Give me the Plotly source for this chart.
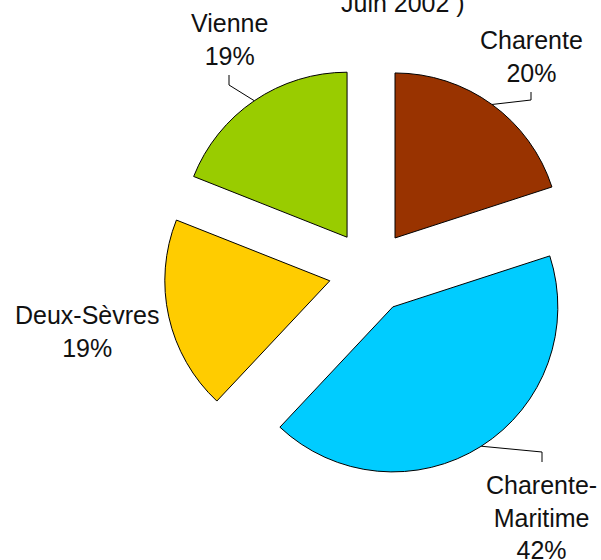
import math
import plotly.graph_objects as go

# ---- data ----
labels = ["Charente", "Charente-Maritime", "Deux-Sèvres", "Vienne"]
label_text = ["Charente<br>20%", "Charente-<br>Maritime<br>42%", "Deux-Sèvres<br>19%", "Vienne<br>19%"]
values = [20, 42, 19, 19]
colors = ["#993300", "#00CCFF", "#FFCC00", "#99CC00"]
title_text = "Juin 2002 )"

# ---- layout constants (pixels) ----
W, H = 601, 560
CX, CY = 370.5, 271.7      # pie centre
R = 165.0                   # radius
PULL = 0.2527               # explode fraction of radius
FONT = "Liberation Sans"
FS = 25

half = R * (1 + PULL)
dom_x = [(CX - half) / W, (CX + half) / W]
dom_y = [1 - (CY + half) / H, 1 - (CY - half) / H]

fig = go.Figure(go.Pie(
    labels=labels, values=values, sort=False, direction="clockwise", rotation=0,
    pull=[PULL] * len(values),
    marker=dict(colors=colors, line=dict(color="black", width=1)),
    textinfo="none", hoverinfo="label+percent", showlegend=False,
    domain=dict(x=dom_x, y=dom_y),
))

# label text positions (pixel centres) and leader elbow points
text_pos = [(531, 57), (541, 517), (87, 331), (229, 40)]
elbows = [[(531, 92), (531, 100)], [(542, 462), (542, 452)], None, [(229, 75), (229, 85)]]

total = sum(values)
start = 0.0
shapes = []
annotations = []
for i, v in enumerate(values):
    frac = v / total
    mid = (start + frac / 2) * 2 * math.pi
    start += frac
    ox = CX + PULL * R * math.sin(mid)
    oy = CY - PULL * R * math.cos(mid)
    px = ox + R * math.sin(mid)
    py = oy - R * math.cos(mid)
    tx, ty = text_pos[i]
    annotations.append(dict(
        x=tx / W, y=1 - ty / H, xref="paper", yref="paper", text=label_text[i],
        showarrow=False, font=dict(family=FONT, size=FS, color="#111111"),
        xanchor="center", yanchor="middle", align="center"))
    if elbows[i]:
        pts = elbows[i] + [(px, py)]
        path = "M " + " L ".join(f"{x / W},{1 - y / H}" for x, y in pts)
        shapes.append(dict(type="path", path=path, xref="paper", yref="paper",
                           line=dict(color="black", width=1)))

annotations.append(dict(
    x=403 / W, y=1 - 3 / H, xref="paper", yref="paper", text=title_text,
    showarrow=False, font=dict(family=FONT, size=FS, color="#111111"),
    xanchor="center", yanchor="middle"))

fig.update_layout(
    width=W, height=H, margin=dict(l=0, r=0, t=0, b=0),
    paper_bgcolor="white", plot_bgcolor="white",
    annotations=annotations, shapes=shapes,
)

fig.write_html("out.html", config={"displayModeBar": False},
               post_script="document.body.style.margin='0';document.body.style.overflow='hidden';")
